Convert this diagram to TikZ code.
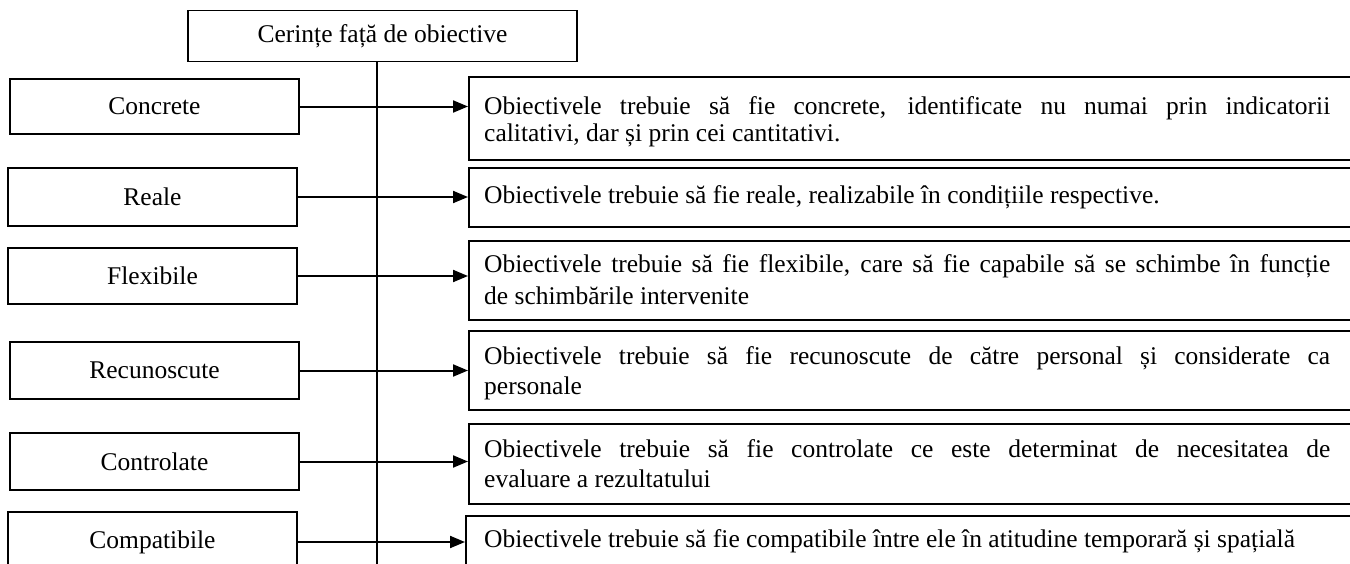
\documentclass[tikz,border=0pt]{standalone}
\usepackage{fontspec}
\setmainfont{Liberation Serif}
\usetikzlibrary{arrows.meta}

\begin{document}
\begin{tikzpicture}[x=1pt,y=-1pt]
\tikzstyle{every node}=[font=\fontsize{25.5}{30}\selectfont]
\tikzstyle{lbox}=[draw=black,line width=1.8pt,minimum width=289pt,minimum height=57pt,inner sep=0pt]
\tikzstyle{rbox}=[draw=black,line width=1.8pt,anchor=north west,minimum width=920pt]
\tikzstyle{rtext}=[anchor=base west,text width=846pt,align=justify,inner sep=0pt]
\tikzstyle{arr}=[line width=2pt,-{Triangle[length=15pt,width=12pt]}]

\useasboundingbox (0,0) rectangle (1350,563);
\clip (0,0) rectangle (1350,563);

\node[lbox,minimum width=389pt,minimum height=51pt] (T) at (382.5,36) {Cerințe față de obiective};
\coordinate (V) at (377,575);
\draw[line width=1.8pt] (T.south -| V) -- (V);

\node[lbox,minimum height=55pt] (A1) at (154.5,106.5) {Concrete};
\node[lbox,minimum height=58pt] (A2) at (152.5,197) {Reale};
\node[lbox,minimum height=56pt] (A3) at (152.5,276) {Flexibile};
\node[lbox] (A4) at (154.5,370.5) {Recunoscute};
\node[lbox] (A5) at (154.5,461.5) {Controlate};
\node[lbox,minimum height=60pt] (A6) at (152.5,542) {Compatibile};

\node[rbox,minimum height=83pt] (R1) at (468,76) {};
\node[rbox,minimum height=59pt] (R2) at (468,167) {};
\node[rbox,minimum height=79pt] (R3) at (468,240) {};
\node[rbox,minimum height=79pt] (R4) at (468,330) {};
\node[rbox,minimum height=80pt] (R5) at (468,423) {};
\node[rbox,minimum height=60pt] (R6) at (465,515) {};

\node[rtext,font=\fontsize{25.5}{27}\selectfont] (t1) at (484,114) {Obiectivele trebuie să fie concrete, identificate nu numai prin indicatorii\linebreak calitativi, dar și prin cei cantitativi.};
\node[rtext] (t2) at (484,203) {Obiectivele trebuie să fie reale, realizabile în condițiile respective.};
\node[rtext,font=\fontsize{25.5}{32}\selectfont] (t3) at (484,272) {Obiectivele trebuie să fie flexibile, care să fie capabile să se schimbe în funcție\linebreak de schimbările intervenite};
\node[rtext] (t4) at (484,364) {Obiectivele trebuie să fie recunoscute de către personal și considerate ca\linebreak personale};
\node[rtext] (t5) at (484,457) {Obiectivele trebuie să fie controlate ce este determinat de necesitatea de\linebreak evaluare a rezultatului};
\node[rtext] (t6) at (484,547) {Obiectivele trebuie să fie compatibile între ele în atitudine temporară și spațială};

\draw[arr] (A1.east) -- (A1.east -| R1.west);
\draw[arr] (A2.east) -- (A2.east -| R2.west);
\draw[arr] (A3.east) -- (A3.east -| R3.west);
\draw[arr] (A4.east) -- (A4.east -| R4.west);
\draw[arr] (A5.east) -- (A5.east -| R5.west);
\draw[arr] (A6.east) -- (A6.east -| R6.west);

\end{tikzpicture}
\end{document}
